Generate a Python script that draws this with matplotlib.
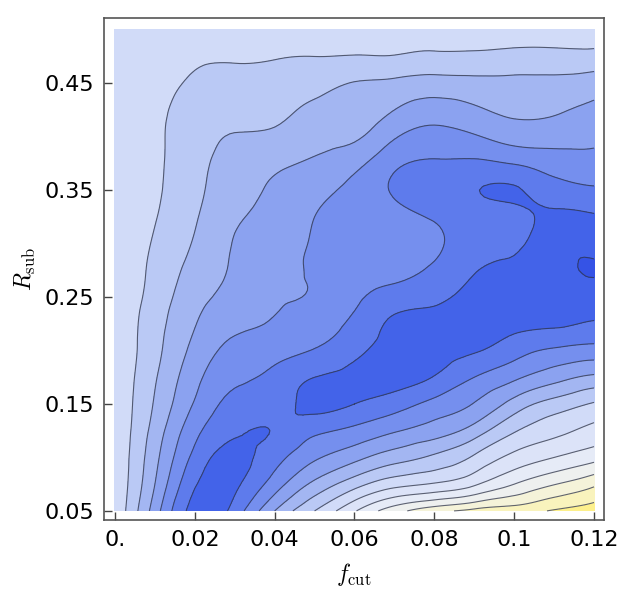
"""
Mapa de contornos de R_sub frente a f_cut (recreación).
"""
import numpy as np
import matplotlib
matplotlib.use("Agg")
import matplotlib.pyplot as plt
import matplotlib.tri as mtri

plt.rcParams["mathtext.fontset"] = "cm"

# Ejes de la malla de datos
f_cut = [0.00, 0.01, 0.02, 0.03, 0.04, 0.05, 0.06, 0.07, 0.08, 0.09, 0.10, 0.11, 0.12]
r_sub = [0.050, 0.075, 0.100, 0.125, 0.150, 0.175, 0.200, 0.225, 0.250, 0.275,
         0.300, 0.325, 0.350, 0.375, 0.400, 0.425, 0.450, 0.475, 0.500]

# Valores, una columna por f_cut (de R_sub = 0.05 hacia arriba)
z_000 = [6.15, 6.15, 6.15, 6.15, 6.2, 6.2, 6.2, 6.2, 6.2, 6.2, 6.2, 6.2, 6.2, 6.2, 6.2, 6.2, 6.15, 6.15, 6.15]
z_001 = [9.5, 9.0, 8.7, 8.4, 8.1, 7.9, 7.7, 7.6, 7.4, 7.25, 7.1, 6.95, 6.85, 6.8, 6.8, 6.75, 6.6, 6.5, 6.4]
z_002 = [12.4, 11.9, 11.3, 10.7, 10.1, 9.7, 9.3, 8.95, 8.65, 8.37, 8.1, 7.9, 7.75, 7.7, 7.6, 7.45, 7.15, 6.85, 6.5]
z_003 = [11.6, 12.2, 12.3, 11.85, 11.3, 10.8, 10.3, 9.75, 9.3, 9.1, 9.05, 8.85, 8.6, 8.35, 8.05, 7.7, 7.3, 6.9, 6.5]
z_004 = [9.0, 10.5, 11.4, 11.95, 11.6, 11.2, 10.7, 10.1, 9.85, 9.6, 9.5, 9.35, 9.15, 8.8, 8.2, 7.75, 7.35, 6.95, 6.5]
z_005 = [7.0, 8.75, 10.15, 11.25, 12.3, 12.0, 11.05, 10.6, 10.1, 10.15, 10.1, 10.0, 9.7, 9.15, 8.65, 8.2, 7.65, 7.0, 6.5]
z_006 = [5.1, 7.4, 9.3, 10.75, 12.0, 12.3, 11.75, 11.2, 10.8, 10.6, 10.5, 10.45, 10.3, 9.7, 8.85, 8.45, 8.05, 7.05, 6.5]
z_007 = [3.4, 6.35, 8.45, 10.1, 11.45, 12.4, 12.4, 12.2, 11.45, 10.7, 10.5, 10.7, 11.1, 10.8, 9.9, 9.0, 8.2, 7.05, 6.5]
z_008 = [2.3, 5.9, 7.8, 9.5, 10.7, 11.95, 12.4, 12.3, 11.8, 11.2, 10.8, 11.1, 11.4, 11.1, 10.4, 9.45, 8.4, 7.2, 6.5]
z_009 = [1.7, 5.15, 6.85, 8.55, 9.95, 11.0, 12.1, 12.5, 12.3, 11.95, 11.6, 11.55, 11.92, 11.2, 10.1, 9.15, 8.3, 7.2, 6.5]
z_010 = [1.45, 4.0, 5.7, 7.1, 8.6, 10.2, 11.4, 12.3, 12.6, 12.3, 11.8, 11.72, 12.08, 10.95, 9.6, 8.8, 8.25, 7.3, 6.5]
z_011 = [0.9, 3.05, 5.0, 6.3, 7.6, 9.4, 10.85, 12.15, 12.6, 12.8, 12.6, 12.2, 11.45, 10.55, 9.55, 8.9, 8.3, 7.3, 6.5]
z_012 = [0.5, 2.2, 4.35, 5.7, 6.9, 8.8, 10.6, 11.9, 12.5, 13.1, 12.6, 12.1, 11.15, 10.4, 9.7, 9.2, 8.5, 7.3, 6.5]

# Niveles de contorno y colores de cada franja (amarillo -> blanco -> azul)
line_levels = list(range(1, 14))
fill_levels = [-5] + line_levels + [20]
band_colors = ["#fdf08c", "#f9f3bd", "#f5f3d9", "#eef0ef", "#e6ebf7", "#dce3f8",
               "#d1dbf8", "#bac9f5", "#a3b6f2", "#8ba2f0", "#758fee", "#5e7bec",
               "#4363e9", "#3553e6"]

x_ticks = [0.0, 0.02, 0.04, 0.06, 0.08, 0.10, 0.12]
x_tick_labels = ["0.", "0.02", "0.04", "0.06", "0.08", "0.1", "0.12"]
y_ticks = [0.05, 0.15, 0.25, 0.35, 0.45]
y_tick_labels = ["0.05", "0.15", "0.25", "0.35", "0.45"]

# Malla y refinamiento suave (en coordenadas normalizadas)
z = np.column_stack([z_000, z_001, z_002, z_003, z_004, z_005, z_006,
                     z_007, z_008, z_009, z_010, z_011, z_012])
X, Y = np.meshgrid(f_cut, r_sub)
xs = (X.ravel() - min(f_cut)) / (max(f_cut) - min(f_cut))
ys = (Y.ravel() - min(r_sub)) / (max(r_sub) - min(r_sub))
tri = mtri.Triangulation(xs, ys)
refiner = mtri.UniformTriRefiner(tri)
tri_r, z_r = refiner.refine_field(z.ravel(), subdiv=3)
tri_d = mtri.Triangulation(min(f_cut) + tri_r.x * (max(f_cut) - min(f_cut)),
                           min(r_sub) + tri_r.y * (max(r_sub) - min(r_sub)),
                           triangles=tri_r.triangles)

# Gráfica
fig = plt.figure(figsize=(6.25, 6.05), dpi=100)
ax = fig.add_axes([104 / 625, 1 - 520 / 605, 500 / 625, 502 / 605])

ax.tricontourf(tri_d, z_r, levels=fill_levels, colors=band_colors)
ax.tricontour(tri_d, z_r, levels=line_levels, colors="#2f3445",
              linewidths=0.8, alpha=0.75)

ax.set_xlim(-0.00275, 0.1225)
ax.set_ylim(0.0415, 0.511)
ax.set_xticks(x_ticks, x_tick_labels)
ax.set_yticks(y_ticks, y_tick_labels)
ax.tick_params(direction="in", length=6, width=1, labelsize=16, pad=7,
               colors="#444444", labelcolor="black")
for s in ax.spines.values():
    s.set_color("#555555")
    s.set_linewidth(1.2)

ax.set_xlabel(r"$f_{\rm cut}$", fontsize=17, labelpad=8)
ax.set_ylabel(r"$R_{\rm sub}$", fontsize=17, labelpad=5)

fig.savefig("out.png", dpi=100)
